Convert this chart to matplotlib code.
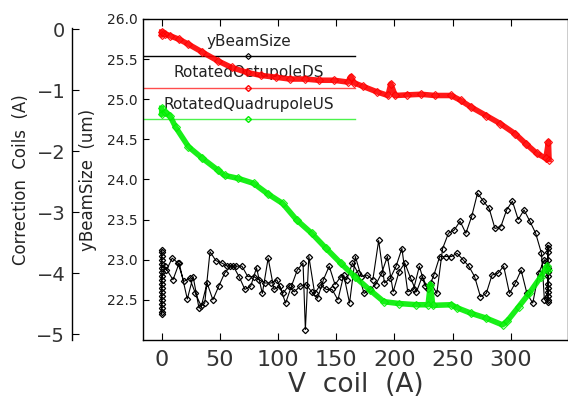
import matplotlib
matplotlib.use("Agg")
import matplotlib.pyplot as plt

# correction coil currents (A) vs V coil (A)
octu_v = [0, 0, 3, 7, 15, 23, 35, 48, 60, 73, 85, 98, 110, 123, 135, 148, 160, 162.7, 165,
          173, 185, 194.5, 197, 200.7, 211, 223, 235, 249, 257, 266, 279, 291, 304, 313,
          322.5, 330.3, 332.5, 333]
octu_a = [-0.05, -0.10, -0.08, -0.11, -0.17, -0.25, -0.38, -0.52, -0.63, -0.71, -0.76, -0.79,
          -0.82, -0.82, -0.84, -0.84, -0.87, -0.78, -0.88, -0.94, -1.03, -1.09, -0.90, -1.09,
          -1.08, -1.07, -1.09, -1.09, -1.17, -1.28, -1.42, -1.55, -1.72, -1.88, -2.04, -2.12,
          -1.85, -2.14]

quad_v = [0, 0, 3, 7, 12, 23, 35, 48, 54, 66, 79, 91, 104, 116, 129, 141, 154, 166, 179, 191,
          204, 219, 229, 231, 233, 249, 254, 266, 279, 293, 297, 307, 316, 326, 331, 332]
quad_a = [-1.30, -1.40, -1.36, -1.42, -1.61, -1.93, -2.12, -2.31, -2.40, -2.45, -2.53, -2.70,
          -2.86, -3.13, -3.35, -3.59, -3.84, -4.06, -4.28, -4.47, -4.50, -4.52, -4.52, -4.19,
          -4.53, -4.52, -4.57, -4.66, -4.74, -4.85, -4.79, -4.55, -4.33, -4.06, -3.89, -3.95]

# yBeamSize (um): cluster at start, ramp up, cluster at end, ramp down
beam_start = [22.9, 23.1, 22.6, 22.35, 23.0, 22.45, 22.8, 22.5, 23.12, 22.4, 22.7, 22.95,
              22.33, 22.85, 22.55, 23.05, 22.65, 22.75]
beam_up_v = [2.5, 9.7, 15, 22, 27, 32, 37, 41.5, 46.5, 51.5, 56.5, 61.5, 66.5, 71.5, 76.5,
             81.5, 86.5, 91.5, 96.5, 101.5, 106.5, 111.5, 116.5, 121.5, 123.5, 126.5, 131.5,
             136.5, 141.5, 146.5, 151.5, 156.5, 161.5, 166.5, 171.5, 176.5, 181.5, 186.5,
             191.5, 196.5, 201.5, 206.5, 211.5, 216.5, 221.5, 226.5, 231.5, 236.5, 241.5,
             246.5, 251.5, 256.5, 261.5, 266.5, 271.5, 276.5, 281.5, 286.5, 291.5, 296.5,
             301.5, 306.5, 311.5, 316.5, 321.5, 326.5, 329]
beam_up = [22.92, 22.75, 22.96, 22.51, 22.79, 22.40, 22.46, 23.10, 22.99, 22.96, 22.92, 22.92,
           22.79, 22.63, 22.67, 22.90, 22.58, 23.02, 22.63, 22.67, 22.46, 22.67, 22.87, 22.96,
           22.13, 23.04, 22.58, 22.69, 22.63, 22.63, 22.50, 22.81, 22.46, 23.04, 22.79, 22.81,
           22.75, 23.24, 22.71, 22.77, 22.92, 23.14, 22.60, 22.63, 22.92, 22.67, 22.71, 22.58,
           23.14, 23.33, 23.37, 23.48, 23.33, 23.54, 23.83, 23.73, 23.64, 23.39, 23.41, 23.62,
           23.73, 23.50, 23.62, 23.48, 23.33, 23.08, 22.50]
beam_end = [22.6, 23.18, 22.5, 22.9, 22.47, 23.1, 22.7, 22.55, 23.0, 22.8, 22.65, 23.15, 22.85]
beam_down_v = [329, 324, 319, 314, 309, 304, 299, 294, 289, 284, 279, 274, 269, 264, 259, 254,
               249, 244, 239, 234, 229, 224, 219, 214, 209, 204, 199, 194, 189, 184, 179, 174,
               169, 164, 159, 154, 149, 144, 139, 134, 129, 124, 119, 114, 109, 104, 99, 94,
               89, 84, 79, 74, 69, 64, 59, 54, 49, 44, 39, 34, 29, 24, 19, 14, 9, 4]
beam_down = [23.00, 22.83, 22.46, 22.58, 22.87, 22.71, 22.58, 22.92, 22.83, 22.81, 22.58, 22.54,
             22.79, 22.92, 23.00, 23.08, 23.04, 23.04, 23.04, 22.81, 22.63, 22.79, 22.60, 22.77,
             22.96, 22.85, 22.60, 23.04, 22.83, 22.69, 22.63, 22.58, 22.83, 22.96, 22.75, 22.79,
             22.69, 22.92, 22.75, 22.52, 22.60, 22.69, 22.67, 22.60, 22.67, 22.58, 22.75, 22.71,
             22.71, 22.75, 22.79, 22.79, 22.92, 22.92, 22.92, 22.83, 22.67, 22.50, 22.71, 22.42,
             22.58, 22.77, 22.73, 22.96, 23.02, 22.87]

beam_v = [0] * len(beam_start) + beam_up_v + [332] * len(beam_end) + beam_down_v
beam = beam_start + beam_up + beam_end + beam_down

red = "#ff0000"
green = "#00ee00"

fig = plt.figure(figsize=(5.68, 4.05), dpi=100)
ax = fig.add_axes([143 / 568, 1 - 340 / 405, 1 - 143 / 568, 321 / 405])

ax.plot(beam_v, beam, color="black", lw=0.8, marker="D", ms=3.2, mfc="none",
        mec="black", mew=0.9, zorder=3)
ax.set_xlim(-16.1, 349.3)
ax.set_ylim(22.0, 26.0)
ax.set_xticks([0, 50, 100, 150, 200, 250, 300])
ax.set_yticks([22.5, 23.0, 23.5, 24.0, 24.5, 25.0, 25.5, 26.0])
ax.set_yticklabels(["22.5", "23.0", "23.5", "24.0", "24.5", "25.0", "25.5", "26.0"])
ax.tick_params(axis="x", direction="in", length=5, width=0.8, top=True, labelsize=16, pad=7,
               colors="black", labelcolor="#333333")
ax.tick_params(axis="y", direction="in", length=4, width=0.8, right=True, labelsize=10,
               pad=4, labelcolor="#222222")
ax.set_xlabel("V  coil  (A)", fontsize=19, color="#333333", labelpad=2)
ax.set_ylabel("yBeamSize  (um)", fontsize=12, color="#222222")
ax.yaxis.set_label_coords(-0.108, 0.5)
for s in ax.spines.values():
    s.set_linewidth(1.0)

# legend drawn inside the frame
ax.text(0.248, 0.929, "yBeamSize", transform=ax.transAxes, ha="center", va="center",
        fontsize=11, color="#222222")
ax.text(0.248, 0.833, "RotatedOctupoleDS", transform=ax.transAxes, ha="center",
        va="center", fontsize=11, color="#222222")
ax.text(0.248, 0.734, "RotatedQuadrupoleUS", transform=ax.transAxes, ha="center",
        va="center", fontsize=11, color="#222222")
ax.plot([0, 0.499], [0.885, 0.885], transform=ax.transAxes, color="black", lw=1)
ax.plot([0.248], [0.885], transform=ax.transAxes, color="black", marker="D", ms=3,
        mfc="none", mew=0.8)
ax.plot([0, 0.499], [0.785, 0.785], transform=ax.transAxes, color=red, lw=1, alpha=0.7)
ax.plot([0.248], [0.785], transform=ax.transAxes, color=red, marker="D", ms=3, mfc="none")
ax.plot([0, 0.499], [0.6875, 0.6875], transform=ax.transAxes, color=green, lw=1, alpha=0.7)
ax.plot([0.248], [0.6875], transform=ax.transAxes, color=green, marker="D", ms=3, mfc="none")

# correction coil axis on a detached left spine (71 px = 51 pt to the left)
ax2 = ax.twinx()
ax2.plot(octu_v, octu_a, color=red, lw=4, marker="D", ms=4, mfc="none", mec=red, mew=0.8,
         alpha=0.9)
ax2.plot(quad_v, quad_a, color=green, lw=4, marker="D", ms=4, mfc="none", mec=green,
         mew=0.8, alpha=0.9)
ax2.set_ylim(-5.098, 0.164)
ax2.yaxis.set_ticks_position("left")
ax2.yaxis.set_label_position("left")
ax2.spines["left"].set_position(("outward", 51))
ax2.spines["left"].set_bounds(-5.098, 0.02)
ax2.spines["left"].set_linewidth(1.0)
for side in ["right", "top", "bottom"]:
    ax2.spines[side].set_visible(False)
ax2.set_yticks([0, -1, -2, -3, -4, -5])
ax2.set_yticklabels(["0", "\u22121", "\u22122", "\u22123", "\u22124", "\u22125"])
ax2.tick_params(axis="y", direction="in", length=5, width=0.8, labelsize=14, pad=5,
                labelcolor="#333333")
ax2.set_ylabel("Correction  Coils  (A)", fontsize=12, color="#222222")
ax2.yaxis.set_label_coords(-0.266, 0.5)

fig.savefig("out.png", dpi=100)
